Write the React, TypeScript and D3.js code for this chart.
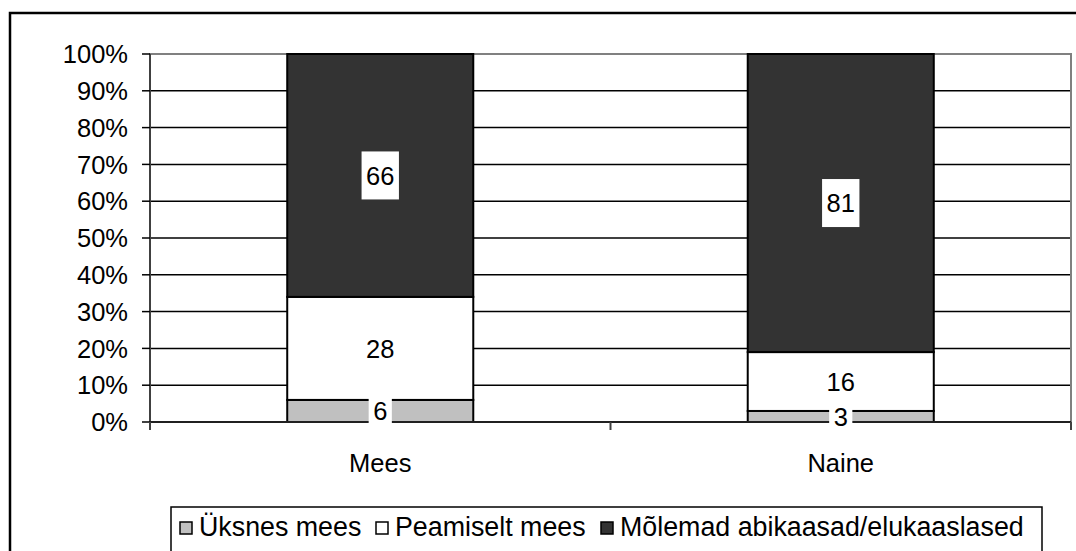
import React from "react";
import * as d3 from "d3";

const categories = ["Mees", "Naine"];
const seriesNames = ["Üksnes mees", "Peamiselt mees", "Mõlemad abikaasad/elukaaslased"];
const uksnesMees = [6, 3];
const peamiseltMees = [28, 16];
const molemad = [66, 81];
const yTicks = [0, 10, 20, 30, 40, 50, 60, 70, 80, 90, 100];
const colors = ["#c0c0c0", "#ffffff", "#333333"];

const FS = 25.5;
const LFS = 26.8;
const FONT = "'Liberation Sans', Arial, sans-serif";

export default function App() {
  const W = 1076, H = 551;
  const left = 150, right = 1071, top = 54, bottom = 422;
  const x = d3.scaleBand<string>().domain(categories).range([left, right]).paddingInner(0.596).paddingOuter(0.298);
  const y = d3.scaleLinear().domain([0, 100]).range([bottom, top]);
  const seriesVals = [uksnesMees, peamiseltMees, molemad];
  const rows = categories.map((c, i) => {
    const r: any = { cat: c };
    seriesNames.forEach((s, j) => (r[s] = seriesVals[j][i]));
    return r;
  });
  const stacked = d3.stack<any>().keys(seriesNames)(rows);

  const legendItems = [
    { sq: 180, tx: 199 },
    { sq: 376, tx: 395 },
    { sq: 601, tx: 620 },
  ];

  return (
    <svg width={W} height={H} style={{ position: "absolute", left: 0, top: 0, background: "#fff" }} fontFamily={FONT}>
      <rect x={0} y={0} width={W} height={H} fill="#fff" />
      <rect x={10} y={13} width={1100} height={600} fill="none" stroke="#000" strokeWidth={2.5} />
      {yTicks.filter((t) => t > 0 && t < 100).map((t) => (
        <line key={t} x1={left} x2={right} y1={y(t)} y2={y(t)} stroke="#000" strokeWidth={1.5} />
      ))}
      <rect x={left} y={top} width={right - left} height={bottom - top} fill="none" stroke="#808080" strokeWidth={2} />
      {stacked.map((layer, j) =>
        layer.map((d, i) => (
          <rect
            key={j + "-" + i}
            x={x(categories[i])!}
            y={y(d[1])}
            width={x.bandwidth()}
            height={y(d[0]) - y(d[1])}
            fill={colors[j]}
            stroke="#000"
            strokeWidth={2}
          />
        ))
      )}
      <line x1={left} x2={left} y1={top} y2={bottom} stroke="#404040" strokeWidth={2} />
      <line x1={left} x2={right} y1={bottom} y2={bottom} stroke="#202020" strokeWidth={2} />
      {yTicks.map((t) => (
        <g key={t}>
          <line x1={left - 8} x2={left} y1={y(t)} y2={y(t)} stroke="#000" strokeWidth={1.5} />
          <text x={128} y={y(t)} dy="0.36em" textAnchor="end" fontSize={FS} fill="#000">
            {t + "%"}
          </text>
        </g>
      ))}
      {[left, (left + right) / 2, right].map((xx, k) => (
        <line key={k} x1={xx} x2={xx} y1={bottom} y2={bottom + 8} stroke="#404040" strokeWidth={2} />
      ))}
      {categories.map((c) => (
        <text key={c} x={x(c)! + x.bandwidth() / 2} y={472} textAnchor="middle" fontSize={FS} fill="#000">
          {c}
        </text>
      ))}
      {stacked.map((layer, j) =>
        layer.map((d, i) => {
          const v = d[1] - d[0];
          const label = String(v);
          const cx = x(categories[i])! + x.bandwidth() / 2;
          const cy = (y(d[0]) + y(d[1])) / 2;
          const bw = label.length * FS * 0.556 + 9;
          const bh = 48;
          return (
            <g key={"l" + j + "-" + i}>
              <rect x={cx - bw / 2} y={cy - bh / 2} width={bw} height={bh} fill="#fff" />
              <text x={cx} y={cy} dy="0.36em" textAnchor="middle" fontSize={FS} fill="#000">
                {label}
              </text>
            </g>
          );
        })
      )}
      <rect x={171} y={507} width={871} height={100} fill="#fff" stroke="#000" strokeWidth={1.5} />
      {seriesNames.map((s, j) => (
        <g key={s}>
          <rect x={legendItems[j].sq} y={522} width={12} height={12} fill={colors[j]} stroke="#000" strokeWidth={1.5} />
          <text x={legendItems[j].tx} y={536} fontSize={LFS} fill="#000">
            {s}
          </text>
        </g>
      ))}
    </svg>
  );
}
